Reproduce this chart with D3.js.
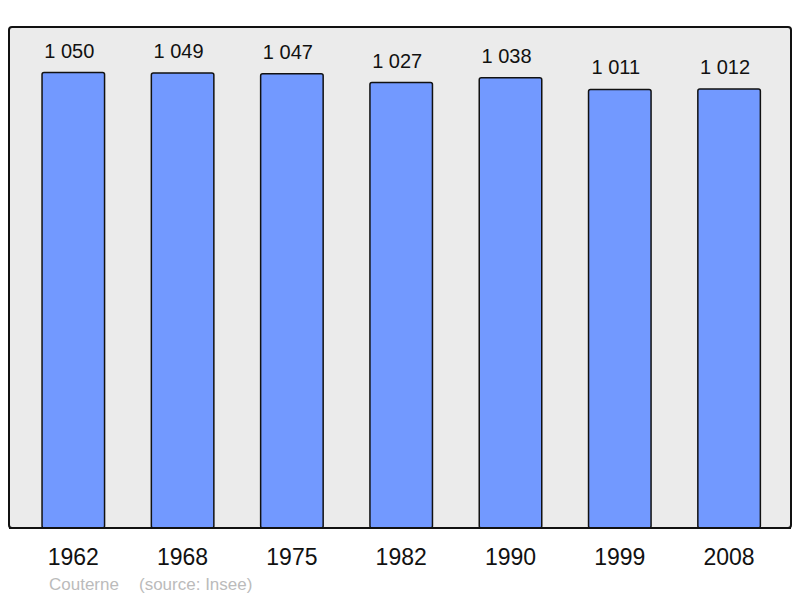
<!DOCTYPE html>
<html><head><meta charset="utf-8">
<script src="https://cdn.jsdelivr.net/npm/d3@7"></script>
<style>html,body{margin:0;padding:0;background:#fff;}svg{display:block;}</style>
</head><body>
<script>
const years = ["1962","1968","1975","1982","1990","1999","2008"];
const population = [1050,1049,1047,1027,1038,1011,1012];
const valueLabels = ["1 050","1 049","1 047","1 027","1 038","1 011","1 012"];
const commune = "Couterne";
const sourceText = "(source: Insee)";

const W = 800, H = 598;
const svg = d3.select("body").append("svg").attr("width", W).attr("height", H);
const font = "'Liberation Sans', Arial, sans-serif";

const panel = {x0: 9, y0: 27, x1: 791, y1: 528};
svg.append("rect")
  .attr("x", panel.x0).attr("y", panel.y0)
  .attr("width", panel.x1 - panel.x0).attr("height", panel.y1 - panel.y0)
  .attr("rx", 3).attr("ry", 3)
  .attr("fill", "#ebebeb").attr("stroke", "#111").attr("stroke-width", 2);

const x = d3.scaleBand().domain(years).range([18.65, 783.75]).paddingInner(0.428).paddingOuter(0.214);
const y = d3.scaleLinear().domain([0, 1155]).range([panel.y1, panel.y0]);

const data = years.map((yr, i) => ({yr, v: population[i], lab: valueLabels[i]}));

svg.append("g").selectAll("rect").data(data).join("rect")
  .attr("x", d => x(d.yr)).attr("y", d => y(d.v))
  .attr("width", x.bandwidth()).attr("height", d => y(0) - y(d.v))
  .attr("rx", 2).attr("ry", 2)
  .attr("fill", "#7299ff").attr("stroke", "#111").attr("stroke-width", 1.5);

svg.append("line").attr("x1", panel.x0).attr("x2", panel.x1)
  .attr("y1", panel.y1).attr("y2", panel.y1)
  .attr("stroke", "#111").attr("stroke-width", 2);

svg.append("g").selectAll("text").data(data).join("text")
  .attr("x", d => x(d.yr) + x.bandwidth()/2 - 4).attr("y", d => y(d.v) - 15)
  .attr("text-anchor", "middle").attr("font-family", font).attr("font-size", 20)
  .attr("fill", "#111").text(d => d.lab);

svg.append("g").selectAll("text").data(data).join("text")
  .attr("x", d => x(d.yr) + x.bandwidth()/2).attr("y", 565)
  .attr("text-anchor", "middle").attr("font-family", font).attr("font-size", 23)
  .attr("fill", "#111").text(d => d.yr);

svg.append("text").attr("x", 49).attr("y", 590)
  .attr("font-family", font).attr("font-size", 17).attr("fill", "#bbb")
  .text(commune);
svg.append("text").attr("x", 139).attr("y", 590)
  .attr("font-family", font).attr("font-size", 17).attr("fill", "#bbb")
  .text(sourceText);
</script>
</body></html>
